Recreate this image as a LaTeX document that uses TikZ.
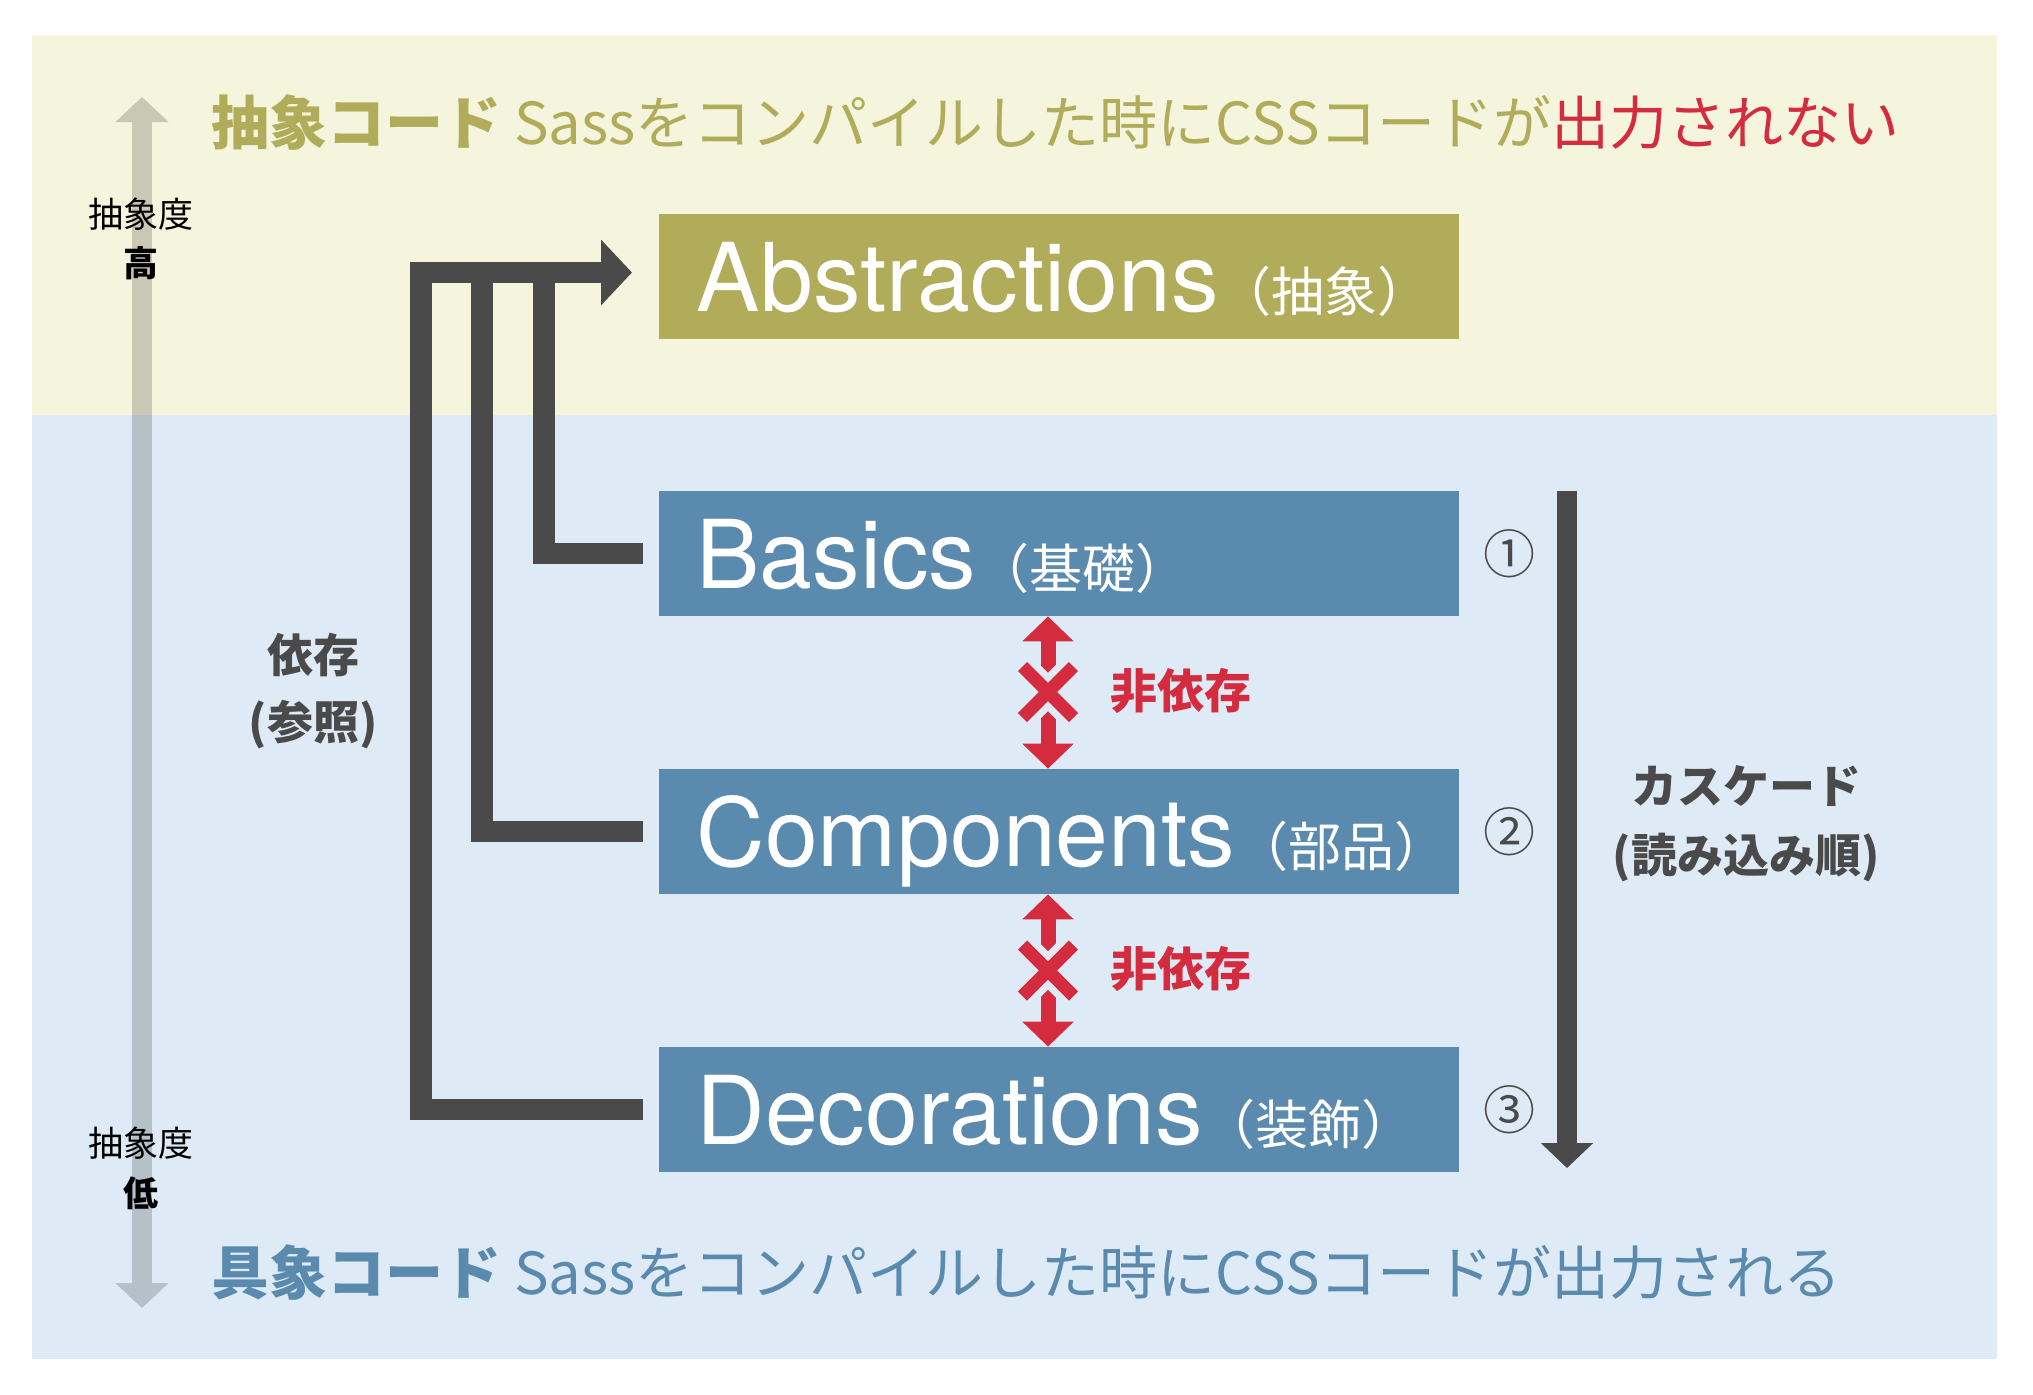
\documentclass[tikz,border=0pt]{standalone}
\usepackage{fontspec}
\setmainfont{TeX Gyre Heros}
\newfontfamily\jp{Noto Sans CJK JP}
\usetikzlibrary{arrows.meta}
\definecolor{bgY}{HTML}{F5F5DE}
\definecolor{bgB}{HTML}{DEEBF6}
\definecolor{olive}{HTML}{B0AC5A}
\definecolor{steel}{HTML}{5A8BAF}
\definecolor{redc}{HTML}{D42B3F}
\definecolor{dgrey}{HTML}{4A4A4A}
\definecolor{axY}{HTML}{C8C8B5}
\definecolor{axB}{HTML}{B5C0C9}
\newcommand\fs[1]{\fontsize{#1}{#1}\selectfont}
\begin{document}
\begin{tikzpicture}[x=0.5pt,y=-0.5pt,
  box/.style={rectangle,minimum width=400pt,minimum height=62.5pt,inner sep=0pt},
  boxlbl/.style={anchor=base west,inner sep=0pt,text=white,font=\fs{47.5pt}},
  jpl/.style={inner sep=0pt,font=\jp\bfseries\fs{23pt},text=dgrey},
  dep/.style={draw=dgrey,line width=10.75pt,line join=miter},
  deptip/.style={-{Triangle[width=32pt,length=15.5pt]}},
  nodep/.style={draw=redc,line width=7.5pt,{Triangle[width=25pt,length=12.5pt]}-{Triangle[width=25pt,length=12.5pt]}},
  xout/.style={draw=bgB,line width=13.5pt},
  xin/.style={draw=redc,line width=6.5pt},
  axis/.style={line width=10pt,-{Triangle[width=26pt,length=12.5pt]}},
  circnum/.style={inner sep=0pt,font=\jp\fs{26pt},text=dgrey},
]
\useasboundingbox (0,0) rectangle (2033,1394);
\fill[white] (0,0) rectangle (2033,1394);
\fill[bgY] (32,35) rectangle (1997,415);
\fill[bgB] (32,415) rectangle (1997,1359);

% abstraction axis
\coordinate (axT) at (142,97);
\coordinate (axM) at (142,415);
\coordinate (axL) at (142,1308);
\draw[axis,draw=axY] (axM) -- (axT);
\draw[axis,draw=axB] (axM) -- (axL);
\node[inner sep=0pt,font=\jp\fs{17.5pt}] (hiA) at (141,214) {抽象度};
\node[inner sep=0pt,font=\jp\bfseries\fs{17.5pt}] (hiB) at (141,263) {高};
\node[inner sep=0pt,font=\jp\fs{17.5pt}] (loA) at (141,1143) {抽象度};
\node[inner sep=0pt,font=\jp\bfseries\fs{17.5pt}] (loB) at (141,1193) {低};

% headline texts
\node[anchor=base west,inner sep=0pt,font=\jp\fs{29pt},text=olive] (topL) at (211,144)
  {\bfseries 抽象コード\mdseries{} Sassをコンパイルした時にCSSコードが\textcolor{redc}{出力されない}};
\node[anchor=base west,inner sep=0pt,font=\jp\fs{29pt},text=steel] (botL) at (211,1294)
  {\bfseries 具象コード\mdseries{} Sassをコンパイルした時にCSSコードが出力される};

% boxes
\node[box,fill=olive] (abs) at (1059,276.5) {};
\node[box,fill=steel] (bas) at (1059,553.5) {};
\node[box,fill=steel] (com) at (1059,831.5) {};
\node[box,fill=steel] (dec) at (1059,1109.5) {};
\node[boxlbl] (absL) at (696,311) {Abstractions{\jp\fs{26.5pt}（抽象）}};
\node[boxlbl] (basL) at (696,588) {Basics{\jp\fs{26.5pt}（基礎）}};
\node[boxlbl] (comL) at (696,866) {Components{\jp\fs{26.5pt}（部品）}};
\node[boxlbl] (decL) at (696,1144) {Decorations{\jp\fs{26.5pt}（装飾）}};

% dependency connectors
\coordinate (tip) at (632,272.5);
\coordinate (cO) at (421,272.5);
\coordinate (cM) at (482,272.5);
\coordinate (cI) at (544,272.5);
\draw[dep] ([xshift=-8pt]com.west) -| (cM);
\draw[dep] ([xshift=-8pt]bas.west) -| (cI);
\draw[dep,deptip] ([xshift=-8pt]dec.west) -| (cO) -- (tip);
\node[jpl] (depA) at (313,655) {依存};
\node[jpl] (depB) at (313,725) {(参照)};

% non-dependency marks
\draw[nodep] ([xshift=-5.5pt]bas.south) -- ([xshift=-5.5pt]com.north);
\draw[nodep] ([xshift=-5.5pt]com.south) -- ([xshift=-5.5pt]dec.north);
\coordinate (x1) at (1048,692);
\coordinate (x2) at (1048,970.5);
\foreach \c in {x1,x2}{
  \draw[xout] ([shift={(-25.5,-25.5)}]\c) -- ([shift={(25.5,25.5)}]\c)
              ([shift={(-25.5,25.5)}]\c) -- ([shift={(25.5,-25.5)}]\c);
  \draw[xin] ([shift={(-25.5,-25.5)}]\c) -- ([shift={(25.5,25.5)}]\c)
             ([shift={(-25.5,25.5)}]\c) -- ([shift={(25.5,-25.5)}]\c);
}
\node[anchor=west,inner sep=0pt,font=\jp\bfseries\fs{23.5pt},text=redc] (nd1) at (1110,691) {非依存};
\node[anchor=west,inner sep=0pt,font=\jp\bfseries\fs{23.5pt},text=redc] (nd2) at (1110,969) {非依存};

% order numbers
\node[circnum] (n1) at (1509,554) {①};
\node[circnum] (n2) at (1509,832) {②};
\node[circnum] (n3) at (1509,1110) {③};

% cascade arrow
\coordinate (cT) at (1567,491);
\coordinate (cB) at (1567,1168);
\draw[draw=dgrey,line width=10pt,-{Triangle[width=25.5pt,length=12.5pt]}] (cT) -- (cB);
\node[jpl] (casA) at (1746,786) {カスケード};
\node[jpl] (casB) at (1746,858) {(読み込み順)};
\end{tikzpicture}
\end{document}
